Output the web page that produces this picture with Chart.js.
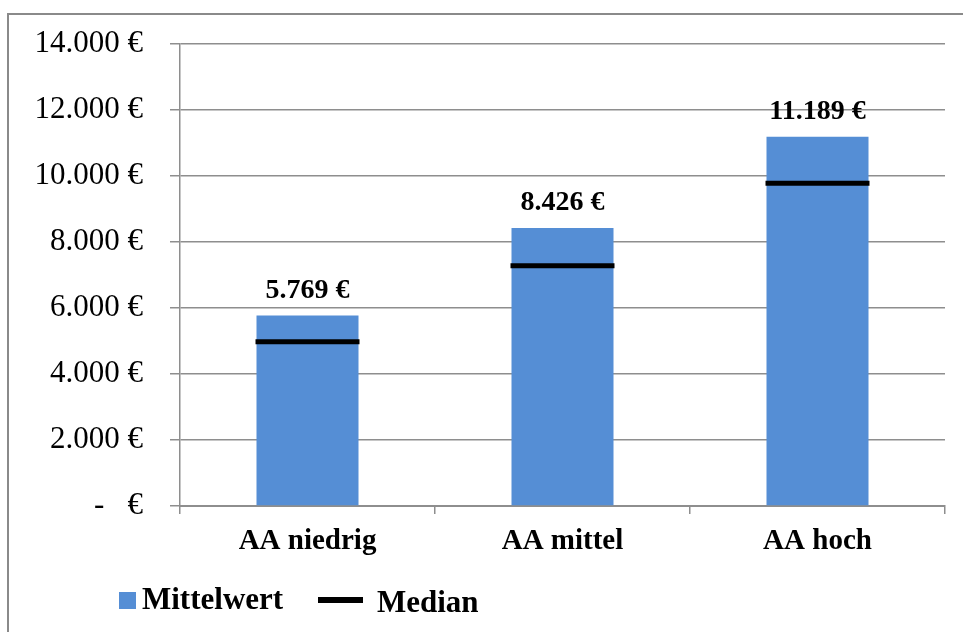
<!DOCTYPE html>
<html lang="de">
<head>
<meta charset="utf-8">
<title>Mittelwert und Median</title>
<script src="https://cdn.jsdelivr.net/npm/chart.js@4.4.1/dist/chart.umd.min.js"></script>
<style>
    html, body {
        margin: 0;
        padding: 0;
        width: 963px;
        height: 632px;
        overflow: hidden;
        background: #ffffff;
    }
    #frame {
        position: absolute;
        left: 7px;
        top: 13px;
        width: 2000px;
        height: 2000px;
        border: 2px solid #8a8a8a;
        box-sizing: border-box;
    }
    #chart {
        position: absolute;
        left: 0;
        top: 0;
    }
</style>
</head>
<body>
<div id="frame"></div>
<canvas id="chart" width="963" height="632"></canvas>
<script>
// Data
const categories = ['AA niedrig', 'AA mittel', 'AA hoch'];
const meanValues = [5769, 8426, 11189];
const medianValues = [4980, 7280, 9780];
const yTicks = [0, 2000, 4000, 6000, 8000, 10000, 12000, 14000];
const seriesNames = ['Mittelwert', 'Median'];

const serif = "'Liberation Serif', 'Times New Roman', serif";
const barColor = '#558ED5';
const gridColor = '#8e8e8e';

// German thousands separator: 11189 -> "11.189"
function formatEuro(v) {
    if (v === 0) return '-\u00a0\u00a0\u00a0€';
    return String(Math.round(v)).replace(/\B(?=(\d{3})+(?!\d))/g, '.') + ' €';
}

// Value labels above the bars
const valueLabels = {
    id: 'valueLabels',
    afterDatasetsDraw(chart) {
        const ctx = chart.ctx;
        const meta = chart.getDatasetMeta(0);
        ctx.save();
        ctx.font = `bold 28px ${serif}`;
        ctx.fillStyle = '#000';
        ctx.textAlign = 'center';
        ctx.textBaseline = 'alphabetic';
        meta.data.forEach((bar, i) => {
            ctx.fillText(formatEuro(meanValues[i]), bar.x, bar.y - 18);
        });
        ctx.restore();
    }
};

// Legend at the bottom: square for the bars, thick line for the median
const bottomLegend = {
    id: 'bottomLegend',
    afterDraw(chart) {
        const ctx = chart.ctx;
        const x0 = 119;
        ctx.save();
        ctx.font = `bold 31px ${serif}`;
        ctx.fillStyle = barColor;
        ctx.fillRect(x0, 592, 17, 17);
        ctx.fillStyle = '#000';
        ctx.textBaseline = 'alphabetic';
        ctx.fillText(seriesNames[0], x0 + 23, 609);

        const lx = 318;
        ctx.strokeStyle = '#000';
        ctx.lineWidth = 6;
        ctx.beginPath();
        ctx.moveTo(lx, 600);
        ctx.lineTo(lx + 45, 600);
        ctx.stroke();
        ctx.fillText(seriesNames[1], lx + 59, 612);
        ctx.restore();
    }
};

const ctx = document.getElementById('chart').getContext('2d');

new Chart(ctx, {
    data: {
        labels: categories,
        datasets: [
            {
                type: 'bar',
                label: seriesNames[0],
                data: meanValues,
                backgroundColor: barColor,
                borderWidth: 0,
                categoryPercentage: 1.0,
                barPercentage: 0.4,
                order: 2
            },
            {
                type: 'line',
                label: seriesNames[1],
                data: medianValues,
                showLine: false,
                pointStyle: 'line',
                pointRadius: 52,
                pointHoverRadius: 52,
                pointBorderWidth: 5,
                pointHoverBorderWidth: 5,
                borderColor: '#000',
                backgroundColor: '#000',
                order: 1
            }
        ]
    },
    options: {
        responsive: false,
        animation: false,
        events: [],
        layout: {
            autoPadding: false,
            padding: { left: 0, top: 44, right: 18, bottom: 70 }
        },
        plugins: {
            legend: { display: false },
            tooltip: { enabled: false }
        },
        scales: {
            x: {
                offset: true,
                grid: {
                    offset: true,
                    drawOnChartArea: false,
                    drawTicks: true,
                    tickLength: 8,
                    color: gridColor,
                    lineWidth: 1.5
                },
                border: {
                    display: true,
                    color: gridColor,
                    width: 2
                },
                ticks: {
                    color: '#000',
                    padding: 10,
                    maxRotation: 0,
                    font: { family: serif, size: 29, weight: 'bold' }
                },
                afterFit(scale) {
                    scale.height = 56;
                    scale.paddingLeft = 0;
                    scale.paddingRight = 0;
                }
            },
            y: {
                min: 0,
                max: 14000,
                afterBuildTicks(scale) {
                    scale.ticks = yTicks.map(v => ({ value: v }));
                },
                grid: {
                    color: gridColor,
                    lineWidth: 1.5,
                    drawTicks: true,
                    tickLength: 10
                },
                border: {
                    display: true,
                    color: gridColor,
                    width: 1.5
                },
                ticks: {
                    color: '#000',
                    padding: 27,
                    font: { family: serif, size: 31 },
                    callback: (value) => formatEuro(value)
                },
                afterFit(scale) {
                    scale.width = 180;
                    scale.paddingTop = 0;
                    scale.paddingBottom = 0;
                }
            }
        }
    },
    plugins: [valueLabels, bottomLegend]
});
</script>
</body>
</html>
